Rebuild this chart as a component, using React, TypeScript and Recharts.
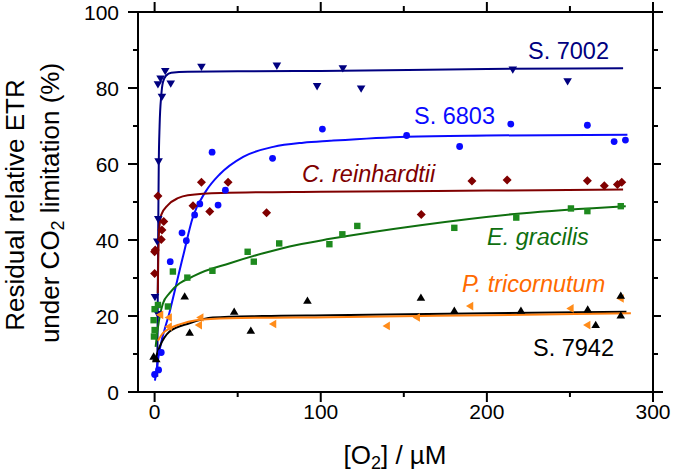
import React from 'react';
import { ComposedChart, Scatter, Line, XAxis, YAxis, Customized } from 'recharts';

const FONT = '"Liberation Sans", Arial, Helvetica, sans-serif';

// axis ticks
const xTicks = [0, 50, 100, 150, 200, 250, 300];
const yTicks = [0, 10, 20, 30, 40, 50, 60, 70, 80, 90, 100];

// S. 7002 (measured)
const s7002X = [0.2, 2, 1.6, 2.2, 2.4, 2, 3.6, 4.4, 6.4, 9.7, 28.2, 73.6, 97.8, 113.3, 124.3, 215.6, 248.6];
const s7002Y = [25, 20.5, 39.6, 45.5, 60.7, 81, 82.5, 77.7, 84.5, 81.2, 85.6, 85.9, 80.5, 85.2, 79.9, 84.9, 81.8];
// S. 7002 fit
const s7002FitX = [1.6, 1.9, 2.2, 2.5, 3, 4, 5, 7, 10, 20, 50, 100, 200, 282];
const s7002FitY = [4, 25, 45, 60, 70, 78, 81.5, 83.3, 84, 84.3, 84.4, 84.5, 85, 85.2];

// S. 6803
const s6803X = [0, 2.4, 4, 9.4, 16.5, 19.1, 24.1, 27.2, 38.2, 42.6, 34.6, 71, 101, 151.7, 183.6, 214.4, 260.5, 276.6, 283.4];
const s6803Y = [4.6, 5.8, 10.4, 34.3, 41.9, 39.8, 46.6, 49.5, 49.2, 53.1, 63.1, 61.5, 69.2, 67.5, 64.6, 70.5, 70.2, 65.9, 66.3];
const s6803FitX = [0.2, 3, 9, 17, 23, 30.8, 39.2, 53.3, 71.4, 89.5, 105.6, 151.7, 200, 284.6];
const s6803FitY = [3, 11, 21, 35.5, 46, 52.8, 57.3, 61.9, 64.5, 65.6, 66.1, 67.2, 67.5, 67.7];

// C. reinhardtii
const creinX = [0, 0, 0.4, 2, 4, 4.4, 5.5, 23.1, 28.2, 33.2, 44.2, 67.4, 160.5, 191, 212.2, 260.5, 270.7, 278.6, 281.2];
const creinY = [31.2, 36.9, 37.4, 51.6, 40.1, 42.6, 44.9, 49, 55.2, 47.5, 55.2, 47.2, 46.7, 55.5, 55.8, 55.6, 54.3, 54.6, 55.2];
const creinFitX = [1.9, 2.2, 2.6, 4, 8, 14, 20, 40, 100, 200, 282];
const creinFitY = [26, 35, 41.7, 46.6, 49.2, 51, 51.8, 52.4, 52.7, 53, 53.3];

// E. gracilis
const egracX = [-0.4, 0, -0.6, 0, 2, 8, 11, 19.7, 34.8, 56, 59.7, 75, 105.2, 113, 122, 180.4, 217.7, 250.6, 260.5, 280.6];
const egracY = [14.6, 16.3, 18.9, 21.8, 22.9, 22.5, 31.7, 30.1, 31.9, 36.9, 34.3, 39.1, 38.9, 41.5, 43.7, 43.2, 45.9, 48.3, 47.6, 48.9];
const egracFitX = [0.6, 2, 5, 9, 25, 45.3, 65.4, 85.5, 105.6, 160, 220.3, 283.6];
const egracFitY = [11.9, 17, 23.3, 26, 30.8, 33.9, 36.5, 38.7, 40.3, 43.9, 47, 48.9];

// P. tricornutum
const ptricX = [3.4, 8.6, 8.6, 27.6, 26.7, 71.4, 139.8, 157.9, 190, 250.4, 260.5, 280.6];
const ptricY = [20.3, 19.6, 17.2, 19.6, 17.6, 17.9, 17.4, 19.6, 22.6, 22, 17.6, 24.6];
const ptricFitX = [2, 5, 9, 15, 25, 45, 105.6, 200, 286.7];
const ptricFitY = [13.5, 15.5, 16.7, 17.8, 18.9, 19.4, 19.7, 20.2, 20.7];

// S. 7942
const s7942X = [-0.6, 1, 18.1, 21.1, 47.9, 57.9, 92, 160.3, 180.4, 220.5, 260.7, 265.5, 280.6, 280.6];
const s7942Y = [9.3, 8.6, 25.1, 15.6, 21.1, 16.1, 24, 24.8, 21.4, 21.4, 21.7, 17.6, 25.3, 20.1];
const s7942FitX = [-1, 0.5, 3, 9, 21, 35, 65, 105.6, 200, 284];
const s7942FitY = [8, 9, 11.9, 15.9, 18.1, 19.6, 20, 20.2, 20.7, 21.1];

const zip = (xs: number[], ys: number[]) => xs.map((x, i) => ({ x, y: ys[i] }));

const NAVY = '#000080';
const BLUE = '#0a0aff';
const DRED = '#800000';
const GREEN = '#0f6f0f';
const GREEN_PT = '#1e8a1e';
const ORANGE = '#ff7f0f';
const ORANGE_PT = '#ff8c1a';
const ORANGE_TXT = '#ff6a00';

function marker(kind: string, color: string) {
  return (props: any) => {
    const { cx, cy } = props;
    if (cx == null || cy == null) return <g />;
    if (kind === 'circle') return <circle cx={cx} cy={cy} r={3.4} fill={color} />;
    if (kind === 'square') return <rect x={cx - 3.2} y={cy - 3.2} width={6.4} height={6.4} fill={color} />;
    if (kind === 'diamond')
      return <polygon points={`${cx},${cy - 4.5} ${cx + 4.5},${cy} ${cx},${cy + 4.5} ${cx - 4.5},${cy}`} fill={color} />;
    if (kind === 'down')
      return <polygon points={`${cx - 4.3},${cy - 3} ${cx + 4.3},${cy - 3} ${cx},${cy + 4.3}`} fill={color} />;
    if (kind === 'up')
      return <polygon points={`${cx - 4.3},${cy + 3} ${cx + 4.3},${cy + 3} ${cx},${cy - 4.3}`} fill={color} />;
    // left-pointing
    return <polygon points={`${cx + 3},${cy - 4.3} ${cx + 3},${cy + 4.3} ${cx - 4.3},${cy}`} fill={color} />;
  };
}

const BottomTick = (props: any) => {
  const { x, y, payload } = props;
  const major = payload.value % 100 === 0;
  return (
    <g>
      <line x1={x} x2={x} y1={y} y2={y + (major ? 10 : 5)} stroke="#000" strokeWidth={2} />
      {major && (
        <text x={x} y={y + 27} textAnchor="middle" fontSize={21} fontFamily={FONT} fill="#000">
          {payload.value}
        </text>
      )}
    </g>
  );
};

const TopTick = (props: any) => {
  const { x, y, payload } = props;
  const major = payload.value % 100 === 0;
  return <line x1={x} x2={x} y1={y} y2={y - (major ? 10 : 6)} stroke="#000" strokeWidth={2} />;
};

const LeftTick = (props: any) => {
  const { x, y, payload } = props;
  const major = payload.value % 20 === 0;
  return (
    <g>
      <line x1={x} x2={x - (major ? 10 : 5)} y1={y} y2={y} stroke="#000" strokeWidth={2} />
      {major && (
        <text x={x - 19} y={y + 7.5} textAnchor="end" fontSize={21} fontFamily={FONT} fill="#000">
          {payload.value}
        </text>
      )}
    </g>
  );
};

const RightTick = (props: any) => {
  const { x, y, payload } = props;
  const major = payload.value % 20 === 0;
  return <line x1={x} x2={x + (major ? 8 : 5)} y1={y} y2={y} stroke="#000" strokeWidth={2} />;
};

// frame overhangs and all text labels
const Annotations = () => (
  <g fontFamily={FONT}>
    <line x1={128} x2={138} y1={392} y2={392} stroke="#000" strokeWidth={2} />
    <line x1={653} x2={663} y1={392} y2={392} stroke="#000" strokeWidth={2} />
    <line x1={653} x2={663} y1={12} y2={12} stroke="#000" strokeWidth={2} />
    <text x={528} y={59} fontSize={23.5} fill={NAVY}>S. 7002</text>
    <text x={414} y={124} fontSize={23.5} fill={BLUE}>S. 6803</text>
    <text x={302} y={182} fontSize={23.5} fill={DRED} fontStyle="italic">C. reinhardtii</text>
    <text x={487} y={245} fontSize={23.5} fill={GREEN} fontStyle="italic">E. gracilis</text>
    <text x={462} y={292} fontSize={23.5} fill={ORANGE_TXT} fontStyle="italic">P. tricornutum</text>
    <text x={533} y={356} fontSize={23.5} fill="#000">S. 7942</text>
    <text x={395} y={464} fontSize={26} textAnchor="middle" fill="#000">
      [O<tspan fontSize={18} dy={5}>2</tspan>
      <tspan dy={-5}>] / µM</tspan>
    </text>
    <text transform="translate(24,205) rotate(-90)" fontSize={26} textAnchor="middle" fill="#000">
      Residual relative ETR
    </text>
    <text transform="translate(59,203) rotate(-90)" fontSize={26} textAnchor="middle" fill="#000">
      under CO<tspan fontSize={18} dy={5}>2</tspan>
      <tspan dy={-5}> limitation (%)</tspan>
    </text>
  </g>
);

const axisLine = { stroke: '#000', strokeWidth: 2 };

export default function App() {
  return (
    <div style={{ position: 'absolute', left: 0, top: 0, width: 675, height: 474, background: '#fff' }}>
      <ComposedChart width={675} height={474} margin={{ top: 11, right: 21, bottom: 81, left: 137 }}>
        <XAxis
          dataKey="x"
          type="number"
          domain={[-10, 300]}
          ticks={xTicks}
          interval={0}
          allowDataOverflow
          height={1}
          tickSize={0}
          tickMargin={0}
          tickLine={false}
          axisLine={axisLine}
          tick={<BottomTick />}
        />
        <XAxis
          xAxisId="top"
          orientation="top"
          dataKey="x"
          type="number"
          domain={[-10, 300]}
          ticks={xTicks}
          interval={0}
          allowDataOverflow
          height={1}
          tickSize={0}
          tickMargin={0}
          tickLine={false}
          axisLine={axisLine}
          tick={<TopTick />}
        />
        <YAxis
          dataKey="y"
          type="number"
          domain={[0, 100]}
          ticks={yTicks}
          interval={0}
          allowDataOverflow
          width={1}
          tickSize={0}
          tickMargin={0}
          tickLine={false}
          axisLine={axisLine}
          tick={<LeftTick />}
        />
        <YAxis
          yAxisId="right"
          orientation="right"
          dataKey="y"
          type="number"
          domain={[0, 100]}
          ticks={yTicks}
          interval={0}
          allowDataOverflow
          width={1}
          tickSize={0}
          tickMargin={0}
          tickLine={false}
          axisLine={axisLine}
          tick={<RightTick />}
        />

        <Line data={zip(s7002FitX, s7002FitY)} dataKey="y" type="monotone" stroke={NAVY} strokeWidth={2} dot={false} activeDot={false} isAnimationActive={false} />
        <Line data={zip(s6803FitX, s6803FitY)} dataKey="y" type="monotone" stroke={BLUE} strokeWidth={2} dot={false} activeDot={false} isAnimationActive={false} />
        <Line data={zip(creinFitX, creinFitY)} dataKey="y" type="monotone" stroke={DRED} strokeWidth={2} dot={false} activeDot={false} isAnimationActive={false} />
        <Line data={zip(egracFitX, egracFitY)} dataKey="y" type="monotone" stroke={GREEN} strokeWidth={2} dot={false} activeDot={false} isAnimationActive={false} />
        <Line data={zip(s7942FitX, s7942FitY)} dataKey="y" type="monotone" stroke="#000" strokeWidth={2} dot={false} activeDot={false} isAnimationActive={false} />
        <Line data={zip(ptricFitX, ptricFitY)} dataKey="y" type="monotone" stroke={ORANGE} strokeWidth={2} dot={false} activeDot={false} isAnimationActive={false} />

        <Scatter data={zip(s7002X, s7002Y)} shape={marker('down', NAVY)} isAnimationActive={false} />
        <Scatter data={zip(s6803X, s6803Y)} shape={marker('circle', BLUE)} isAnimationActive={false} />
        <Scatter data={zip(creinX, creinY)} shape={marker('diamond', DRED)} isAnimationActive={false} />
        <Scatter data={zip(egracX, egracY)} shape={marker('square', GREEN_PT)} isAnimationActive={false} />
        <Scatter data={zip(ptricX, ptricY)} shape={marker('left', ORANGE_PT)} isAnimationActive={false} />
        <Scatter data={zip(s7942X, s7942Y)} shape={marker('up', '#000')} isAnimationActive={false} />

        <Customized component={<Annotations />} />
      </ComposedChart>
    </div>
  );
}
